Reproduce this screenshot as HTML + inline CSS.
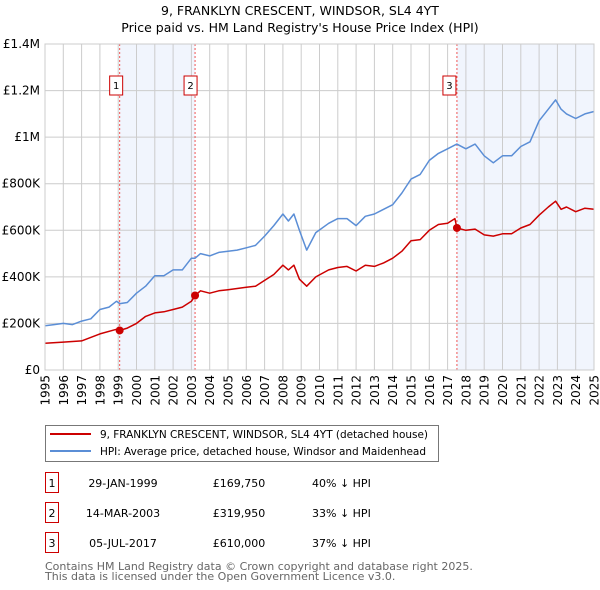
<!DOCTYPE html>
<html><head><meta charset="utf-8"><style>
body{margin:0;background:#fff;font-family:"DejaVu Sans","Liberation Sans",sans-serif;}
svg{display:block}
</style></head><body>
<svg id="c" width="600" height="590" font-family="DejaVu Sans, Liberation Sans, sans-serif">
<g id="xlabels" font-size="12" fill="#000" text-anchor="end">
<text transform="translate(49.5,375) rotate(-90)">1995</text>
<text transform="translate(67.8,375) rotate(-90)">1996</text>
<text transform="translate(86.1,375) rotate(-90)">1997</text>
<text transform="translate(104.4,375) rotate(-90)">1998</text>
<text transform="translate(122.7,375) rotate(-90)">1999</text>
<text transform="translate(141,375) rotate(-90)">2000</text>
<text transform="translate(159.3,375) rotate(-90)">2001</text>
<text transform="translate(177.6,375) rotate(-90)">2002</text>
<text transform="translate(195.9,375) rotate(-90)">2003</text>
<text transform="translate(214.2,375) rotate(-90)">2004</text>
<text transform="translate(232.5,375) rotate(-90)">2005</text>
<text transform="translate(250.8,375) rotate(-90)">2006</text>
<text transform="translate(269.1,375) rotate(-90)">2007</text>
<text transform="translate(287.4,375) rotate(-90)">2008</text>
<text transform="translate(305.7,375) rotate(-90)">2009</text>
<text transform="translate(324,375) rotate(-90)">2010</text>
<text transform="translate(342.3,375) rotate(-90)">2011</text>
<text transform="translate(360.6,375) rotate(-90)">2012</text>
<text transform="translate(378.9,375) rotate(-90)">2013</text>
<text transform="translate(397.2,375) rotate(-90)">2014</text>
<text transform="translate(415.5,375) rotate(-90)">2015</text>
<text transform="translate(433.8,375) rotate(-90)">2016</text>
<text transform="translate(452.1,375) rotate(-90)">2017</text>
<text transform="translate(470.4,375) rotate(-90)">2018</text>
<text transform="translate(488.7,375) rotate(-90)">2019</text>
<text transform="translate(507,375) rotate(-90)">2020</text>
<text transform="translate(525.3,375) rotate(-90)">2021</text>
<text transform="translate(543.6,375) rotate(-90)">2022</text>
<text transform="translate(561.9,375) rotate(-90)">2023</text>
<text transform="translate(580.2,375) rotate(-90)">2024</text>
<text transform="translate(598.5,375) rotate(-90)">2025</text>
</g>
</svg>
<script>
const hpiYears=[1995,1995.5,1996,1996.5,1997,1997.5,1998,1998.5,1998.9,1999.1,1999.5,2000,2000.5,2001,2001.5,2002,2002.5,2003,2003.2,2003.5,2004,2004.5,2005,2005.5,2006,2006.5,2007,2007.5,2008,2008.3,2008.6,2008.9,2009.3,2009.8,2010.5,2011,2011.5,2012,2012.5,2013,2013.5,2014,2014.5,2015,2015.5,2016,2016.5,2017,2017.5,2018,2018.5,2019,2019.5,2020,2020.5,2021,2021.5,2022,2022.5,2022.9,2023.2,2023.5,2024,2024.5,2025];
const hpiValues=[190,195,200,195,210,220,260,270,295,285,290,330,360,405,405,430,430,480,480,500,490,505,510,515,525,535,575,620,670,640,670,600,515,590,630,650,650,620,660,670,690,710,760,820,840,900,930,950,970,950,970,920,890,920,920,960,980,1070,1120,1160,1120,1100,1080,1100,1110];
const priceYears=[1995,1996,1997,1998,1998.9,1999.08,1999.5,2000,2000.5,2001,2001.5,2002,2002.5,2003,2003.2,2003.5,2004,2004.5,2005,2006,2006.5,2007,2007.5,2008,2008.3,2008.6,2008.9,2009.3,2009.8,2010.5,2011,2011.5,2012,2012.5,2013,2013.5,2014,2014.5,2015,2015.5,2016,2016.5,2017,2017.4,2017.51,2018,2018.5,2019,2019.5,2020,2020.5,2021,2021.5,2022,2022.5,2022.9,2023.2,2023.5,2024,2024.5,2025];
const priceValues=[115,120,125,155,175,170,180,200,230,245,250,260,270,295,320,340,330,340,345,355,360,385,410,450,430,450,390,360,400,430,440,445,425,450,445,460,480,510,555,560,600,625,630,650,610,600,605,580,575,585,585,610,625,665,700,725,690,700,680,695,690];
const saleYears=[1999.08,2003.2,2017.51];
const saleValues=[169.75,319.95,610];
const saleLabels=["1","2","3"];
const yTicks=[0,200,400,600,800,1000,1200,1400];
const yTickLabels=["£0","£200K","£400K","£600K","£800K","£1M","£1.2M","£1.4M"];
const xTicks=[];for(let y=1995;y<=2025;y++)xTicks.push(y);
const tableDates=["29-JAN-1999","14-MAR-2003","05-JUL-2017"];
const tablePrices=["£169,750","£319,950","£610,000"];
const tableHpi=["40% ↓ HPI","33% ↓ HPI","37% ↓ HPI"];

const X0=45,X1=594,Y0=370,Y1=44;
const xs=v=>X0+(v-1995)/30*(X1-X0);
const ys=v=>Y0-v/1400*(Y0-Y1);
const NS="http://www.w3.org/2000/svg";
const svg=document.getElementById('c');
const xlab=document.getElementById('xlabels');
function mk(t,a,p){const e=document.createElementNS(NS,t);for(const k in a)e.setAttribute(k,a[k]);if(p)p.appendChild(e);else svg.insertBefore(e,xlab);return e;}
function txt(s,a,p){const e=mk('text',a,p);e.textContent=s;return e;}

let t=txt("9, FRANKLYN CRESCENT, WINDSOR, SL4 4YT",{x:300,y:15,'text-anchor':'middle','font-size':12.5,fill:'#000'});


t=txt("Price paid vs. HM Land Registry's House Price Index (HPI)",{x:300,y:32,'text-anchor':'middle','font-size':12.5,fill:'#000'});



let r=mk('rect',{x:xs(saleYears[0]),y:Y1,width:xs(saleYears[1])-xs(saleYears[0]),height:Y0-Y1,fill:'#eef3fc',opacity:0.8});


r=mk('rect',{x:xs(saleYears[2]),y:Y1,width:X1-xs(saleYears[2]),height:Y0-Y1,fill:'#eef3fc',opacity:0.8});



xTicks.forEach(v=>{
  const l=mk('line',{x1:xs(v),x2:xs(v),y1:Y1,y2:Y0,stroke:'#ccc','stroke-width':1});
  
  
});
yTicks.forEach((v,i)=>{
  const l=mk('line',{x1:X0,x2:X1,y1:ys(v),y2:ys(v),stroke:'#ccc','stroke-width':1});
  
  
  const tx=txt(yTickLabels[i],{x:40,y:ys(v)+4,'text-anchor':'end','font-size':12,fill:'#000'});
  
  
});

saleYears.forEach((v,i)=>{
  const l=mk('line',{x1:xs(v),x2:xs(v),y1:Y1,y2:Y0,stroke:'#e55','stroke-width':1,'stroke-dasharray':'2,2'});
  
  
  const bx=xs(v)-(i==2?3:0)-(i==0?3:4)-7;
  const b=mk('rect',{x:bx,y:76,width:13,height:19,fill:'#fff',stroke:'#c00','stroke-width':1});
  
  
  const tx=txt(saleLabels[i],{x:bx+6.5,y:89,'text-anchor':'middle','font-size':10,fill:'#000'});
  
  
});

function path(xsArr,vals,color,name){
  const d=xsArr.map((x,i)=>(i?'L':'M')+xs(x).toFixed(1)+','+ys(vals[i]).toFixed(1)).join('');
  const p=mk('path',{d:d,fill:'none',stroke:color,'stroke-width':1.5,'stroke-linejoin':'round'});
  
  
}
path(hpiYears,hpiValues,'#5b8ed6','hpi-line');
path(priceYears,priceValues,'#cc0000','price-paid-line');
saleYears.forEach((v,i)=>{
  const c=mk('circle',{cx:xs(v),cy:ys(saleValues[i]),r:4,fill:'#cc0000'});
  
  
});
mk('rect',{x:X0,y:Y1,width:X1-X0,height:Y0-Y1,fill:'none',stroke:'#ccc'});

const lg=mk('rect',{x:45.5,y:425.5,width:393,height:36,fill:'#fff',stroke:'#777'});


let ll=mk('line',{x1:50,x2:91,y1:434,y2:434,stroke:'#cc0000','stroke-width':2});


t=txt("9, FRANKLYN CRESCENT, WINDSOR, SL4 4YT (detached house)",{x:100,y:438,'font-size':10.5,fill:'#000',textLength:328});


ll=mk('line',{x1:50,x2:91,y1:451,y2:451,stroke:'#5b8ed6','stroke-width':2});


t=txt("HPI: Average price, detached house, Windsor and Maidenhead",{x:100,y:455,'font-size':10.5,fill:'#000',textLength:326});



tableDates.forEach((d,i)=>{
  const y=487+i*30;
  const b=mk('rect',{x:45.5,y:y-14.5,width:13,height:20,fill:'#fff',stroke:'#c00'});
  
  
  let e=txt(saleLabels[i],{x:52,y:y,'text-anchor':'middle','font-size':11,fill:'#000'});
  
  
  e=txt(d,{x:123,y:y,'text-anchor':'middle','font-size':11,fill:'#000'});
  
  
  e=txt(tablePrices[i],{x:239,y:y,'text-anchor':'middle','font-size':11,fill:'#000'});
  
  
  e=txt(tableHpi[i],{x:312,y:y,'font-size':11,fill:'#000'});
  
  
});
t=txt("Contains HM Land Registry data © Crown copyright and database right 2025.",{x:45,y:570,'font-size':11,fill:'#666'});


t=txt("This data is licensed under the Open Government Licence v3.0.",{x:45,y:580,'font-size':11,fill:'#666'});


</script>
</body></html>
